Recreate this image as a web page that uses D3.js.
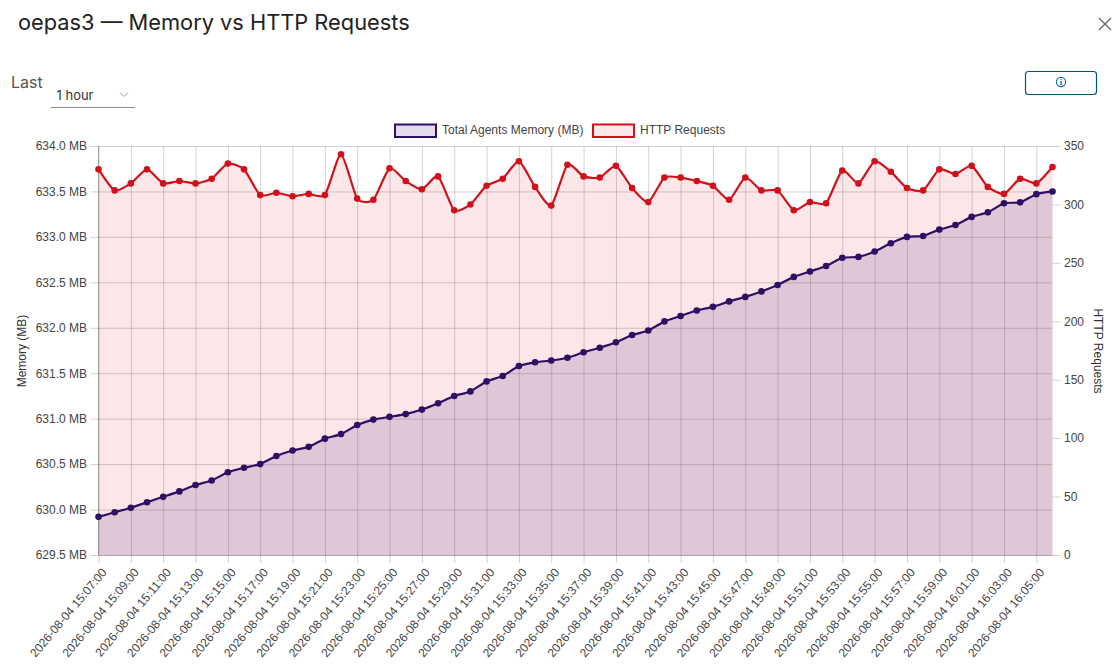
<!DOCTYPE html>
<html><head><meta charset="utf-8">
<script src="https://cdn.jsdelivr.net/npm/d3@7/dist/d3.min.js"></script>
<style>
html,body{margin:0;padding:0;background:#fff;overflow:hidden}
svg{display:block}
.axis text{font:12px "Liberation Sans",Arial,sans-serif;fill:#444}
.axis .domain{display:none}
</style></head><body><svg id="c" width="1114" height="669"></svg>
<script>
const categories=["15:07:00","15:08:00","15:09:00","15:10:00","15:11:00","15:12:00","15:13:00","15:14:00","15:15:00","15:16:00","15:17:00","15:18:00","15:19:00","15:20:00","15:21:00","15:22:00","15:23:00","15:24:00","15:25:00","15:26:00","15:27:00","15:28:00","15:29:00","15:30:00","15:31:00","15:32:00","15:33:00","15:34:00","15:35:00","15:36:00","15:37:00","15:38:00","15:39:00","15:40:00","15:41:00","15:42:00","15:43:00","15:44:00","15:45:00","15:46:00","15:47:00","15:48:00","15:49:00","15:50:00","15:51:00","15:52:00","15:53:00","15:54:00","15:55:00","15:56:00","15:57:00","15:58:00","15:59:00","16:00:00","16:01:00","16:02:00","16:03:00","16:04:00","16:05:00","16:06:00"];
const datePrefix="2026-08-04 ";
const memory=[629.92,629.97,630.02,630.08,630.14,630.20,630.27,630.32,630.41,630.46,630.50,630.59,
630.65,630.69,630.78,630.83,630.93,630.99,631.02,631.05,631.10,631.17,631.25,631.30,
631.41,631.47,631.58,631.62,631.64,631.67,631.73,631.78,631.84,631.92,631.97,632.07,
632.13,632.19,632.23,632.29,632.34,632.40,632.47,632.56,632.62,632.68,632.77,632.78,
632.84,632.93,633.00,633.01,633.08,633.13,633.22,633.27,633.37,633.38,633.47,633.50];
const requests=[330,312,318,330,318,320,318,322,335,330,308,310,307,309,308,343,305,304,331,320,313,
324,295,300,316,322,337,315,299,334,324,323,333,314,302,323,323,320,316,304,323,
312,312,295,302,301,329,318,337,328,314,312,330,326,333,315,309,322,318,332];
const memTicks=[629.5,630,630.5,631,631.5,632,632.5,633,633.5,634];
const reqTicks=[0,50,100,150,200,250,300,350];
const legendLabels=["Total Agents Memory (MB)","HTTP Requests"];

const svg=d3.select("#c");
const L=98.5,R=1052.5,T=146,B=555;
const x=d3.scalePoint().domain(categories).range([L,R]);
const yM=d3.scaleLinear().domain([629.5,634]).range([B,T]);
const yR=d3.scaleLinear().domain([0,350]).range([B,T]);
const purple="#2d0f63",red="#d0111b";
const purpleFill="rgba(116,76,152,0.2)",redFill="rgba(220,20,30,0.1)";
const sans='"Liberation Sans",Arial,sans-serif';
const grid="rgba(0,0,0,0.18)";

// header
svg.append("text").attr("x",18).attr("y",30).attr("font-family","Inter").attr("font-size",21.8).attr("fill","#222").text("oepas3 — Memory vs HTTP Requests");
svg.append("path").attr("d","M1099 18L1111 30M1111 18L1099 30").attr("stroke","#666").attr("stroke-width",1.4).attr("fill","none");
svg.append("text").attr("x",11).attr("y",88).attr("font-family","Inter").attr("font-size",16).attr("fill","#565656").text("Last");
svg.append("text").attr("x",56.5).attr("y",100).attr("font-family","Inter").attr("font-size",13).attr("fill","#333").text("1 hour");
svg.append("path").attr("d","M120 92.5L124 96.5L128 92.5").attr("stroke","#999").attr("fill","none");
svg.append("line").attr("x1",51).attr("x2",135).attr("y1",107.5).attr("y2",107.5).attr("stroke","#8c8c8c");
svg.append("rect").attr("x",1025.5).attr("y",71.5).attr("width",71).attr("height",23).attr("rx",3).attr("fill","#fff").attr("stroke","#00567a").attr("stroke-width",1.2);
svg.append("circle").attr("cx",1061).attr("cy",82).attr("r",4.6).attr("fill","none").attr("stroke","#0072a3").attr("stroke-width",1.1);
svg.append("text").attr("x",1061).attr("y",85.2).attr("text-anchor","middle").attr("font-family","Liberation Serif").attr("font-weight","bold").attr("font-size",9).attr("fill","#0072a3").text("i");

// grid and axes
const tickCats=categories.filter((d,i)=>i%2===0&&i<59);
const gx=svg.append("g").attr("class","axis").attr("transform",`translate(0,${B})`)
 .call(d3.axisBottom(x).tickValues(tickCats).tickSize(8).tickFormat(d=>datePrefix+d));
gx.selectAll("line").attr("y1",8).attr("y2",T-B).attr("stroke",grid);
gx.selectAll("text").attr("text-anchor","end").attr("transform","translate(5,15) rotate(-50)").attr("x",0).attr("y",0).attr("dy","0.35em");
const gl=svg.append("g").attr("class","axis").attr("transform",`translate(${L},0)`)
 .call(d3.axisLeft(yM).tickValues(memTicks).tickFormat(d=>d3.format(".1f")(d)+" MB"));
gl.selectAll("line").attr("x1",-8).attr("x2",R-L).attr("stroke",grid);
gl.selectAll("text").attr("x",-11.5);
const gr=svg.append("g").attr("class","axis").attr("transform",`translate(${R},0)`)
 .call(d3.axisRight(yR).tickValues(reqTicks));
gr.selectAll("line").attr("x2",8).attr("stroke",grid);
gr.selectAll("text").attr("x",11.5);
svg.append("line").attr("x1",L).attr("x2",L).attr("y1",T).attr("y2",B).attr("stroke","rgba(0,0,0,0.3)");
svg.append("line").attr("x1",L).attr("x2",R).attr("y1",B+.5).attr("y2",B+.5).attr("stroke","rgba(0,0,0,0.2)");

// axis titles
svg.append("text").attr("transform","translate(26,351) rotate(-90)").attr("text-anchor","middle").attr("font-family",sans).attr("font-size",12).attr("fill","#333").text("Memory (MB)");
svg.append("text").attr("transform","translate(1094,351) rotate(90)").attr("text-anchor","middle").attr("font-family",sans).attr("font-size",12).attr("fill","#333").text("HTTP Requests");

// series
const curve=d3.curveCardinal.tension(0.4);
function series(vals,y,stroke,fill){
  const g=svg.append("g");
  g.append("path").attr("d",d3.area().x((d,i)=>x(categories[i])).y0(B).y1(d=>y(d)).curve(curve)(vals)).attr("fill",fill);
  return ()=>{
    g.append("path").attr("d",d3.line().x((d,i)=>x(categories[i])).y(d=>y(d)).curve(curve)(vals)).attr("fill","none").attr("stroke",stroke).attr("stroke-width",2.2);
    g.selectAll("circle").data(vals).join("circle").attr("cx",(d,i)=>x(categories[i])).attr("cy",d=>y(d)).attr("r",3.3).attr("fill",stroke);
  };
}
const drawR=series(requests,yR,red,redFill);
const drawM=series(memory,yM,purple,purpleFill);
drawR();drawM();

// legend
const lg=svg.append("g");
[[395,purple,purpleFill,442],[593,red,redFill,640]].forEach((e,i)=>{
  lg.append("rect").attr("x",e[0]).attr("y",124.5).attr("width",41).attr("height",12.5).attr("fill",e[2]).attr("stroke",e[1]).attr("stroke-width",2);
  lg.append("text").attr("x",e[3]).attr("y",134).attr("font-family",sans).attr("font-size",12).attr("fill","#444").text(legendLabels[i]);
});
</script></body></html>
